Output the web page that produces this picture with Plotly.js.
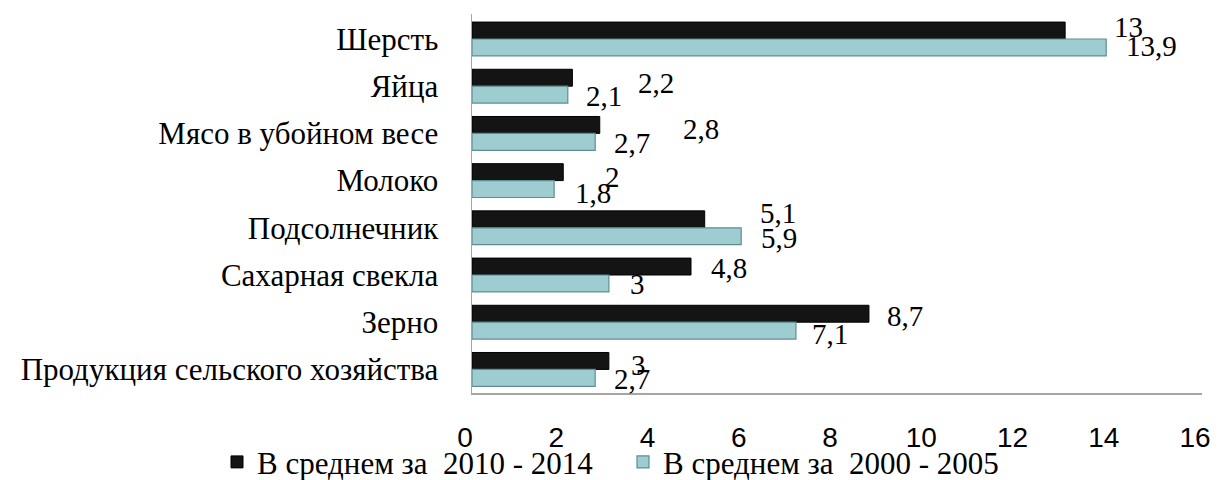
<!DOCTYPE html>
<html>
<head>
<meta charset="utf-8">
<script src="https://cdn.plot.ly/plotly-3.0.1.min.js"></script>
<style>html,body{margin:0;padding:0;background:#fff;}#chart{width:1219px;height:480px;}</style>
</head>
<body>
<div id="chart"></div>
<script>
// ---- data ----
const categories = ["Шерсть", "Яйца", "Мясо в убойном весе", "Молоко", "Подсолнечник", "Сахарная свекла", "Зерно", "Продукция сельского хозяйства"];
const series2010_2014 = [13, 2.2, 2.8, 2, 5.1, 4.8, 8.7, 3];
const series2000_2005 = [13.9, 2.1, 2.7, 1.8, 5.9, 3, 7.1, 2.7];
const seriesNames = ["В среднем за\u00a0 2010 - 2014", "В среднем за\u00a0 2000 - 2005"];
const xTicks = [0, 2, 4, 6, 8, 10, 12, 14, 16];

// ---- label placement nudges (pixels), as in the original figure ----
const darkLabelPad = [47, 64, 81, 40, 53, 18, 16, 20];
const darkLabelDown = [-3.5, 5.5, 4.5, 5, -6, 1, 2.5, 4];
const lightLabelPad = [18, 16, 17, 19, 18, 19, 14, 17];
const lightLabelDown = [-1.5, 1, 1.5, 4, 2, 1, 3, 1.5];

const M = {l: 472, r: 17, t: 14, b: 87};
const H = 480, bargap = 0.283;
const catPx = (H - M.t - M.b) / categories.length;
const barOffset = catPx * (1 - bargap) / 4;

const serif = "Liberation Serif";
const sans = "Liberation Sans";
const fmt = v => String(v).replace('.', ',');

const traces = [
  {type: 'bar', orientation: 'h', name: seriesNames[0], y: categories, x: series2010_2014, legend: 'legend',
   marker: {color: '#141414', line: {color: '#000000', width: 1}}, hoverinfo: 'x+y'},
  {type: 'bar', orientation: 'h', name: seriesNames[1], y: categories, x: series2000_2005, legend: 'legend2',
   marker: {color: '#9dcdd1', line: {color: '#5f8e91', width: 1.2}}, hoverinfo: 'x+y'}
];

const annotations = [];
categories.forEach((c, i) => {
  annotations.push({x: series2010_2014[i], y: c, xref: 'x', yref: 'y', text: fmt(series2010_2014[i]),
    showarrow: false, xanchor: 'left', yanchor: 'middle', xshift: darkLabelPad[i],
    yshift: barOffset - darkLabelDown[i], font: {family: serif, size: 29, color: '#000'}});
  annotations.push({x: series2000_2005[i], y: c, xref: 'x', yref: 'y', text: fmt(series2000_2005[i]),
    showarrow: false, xanchor: 'left', yanchor: 'middle', xshift: lightLabelPad[i],
    yshift: -barOffset - lightLabelDown[i], font: {family: serif, size: 29, color: '#000'}});
});

const legendBase = {orientation: 'h', xref: 'container', yref: 'container', y: 0.037,
  xanchor: 'left', yanchor: 'middle', font: {family: serif, size: 31, color: '#000'},
  itemwidth: 30, bgcolor: 'rgba(0,0,0,0)'};

const layout = {
  width: 1219, height: 480,
  margin: M,
  paper_bgcolor: '#ffffff', plot_bgcolor: '#ffffff',
  barmode: 'group', bargap: bargap, bargroupgap: 0,
  showlegend: true,
  legend: Object.assign({}, legendBase, {x: 217 / 1219}),
  legend2: Object.assign({}, legendBase, {x: 623 / 1219}),
  xaxis: {range: [0, 16], tickvals: xTicks, ticktext: xTicks.map(String), showgrid: false, zeroline: false,
    showline: true, linecolor: '#a6a6a6', linewidth: 1.5, ticks: '', ticklabelstandoff: 19, ticklabelshift: -7,
    tickfont: {family: sans, size: 28, color: '#000'}, fixedrange: true},
  yaxis: {type: 'category', autorange: 'reversed', showgrid: false, zeroline: false,
    showline: true, linecolor: '#a6a6a6', linewidth: 1.5, ticks: '', ticklabelstandoff: 26,
    tickfont: {family: serif, size: 31, color: '#000'}, fixedrange: true},
  annotations: annotations
};

Plotly.newPlot('chart', traces, layout, {displayModeBar: false, staticPlot: true});
</script>
</body>
</html>
